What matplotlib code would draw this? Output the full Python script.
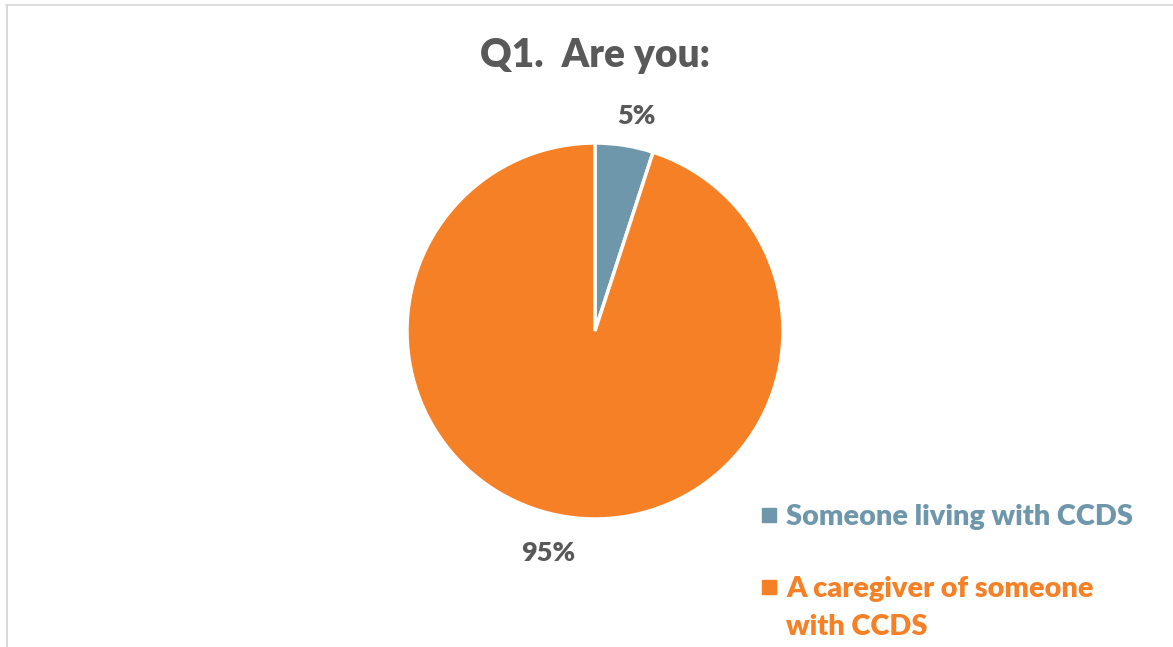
import matplotlib.pyplot as plt
from matplotlib.lines import Line2D
from matplotlib.patches import Rectangle

labels = ['Someone living with CCDS', 'A caregiver of someone\nwith CCDS']
values = [5, 95]
colors = ['#6E97AB', '#F58025']
text_grey = '#595959'

plt.rcParams['font.family'] = ['Lato', 'DejaVu Sans']
weight = 'heavy'
W, H = 1173, 647

fig = plt.figure(figsize=(W / 100, H / 100), dpi=100)
ax = fig.add_axes([(595 - 188) / W, 1 - (331 + 188) / H, 376 / W, 376 / H])

wedges, texts = ax.pie(values, colors=colors, startangle=90, counterclock=False,
                       wedgeprops=dict(edgecolor='white', linewidth=2.5))
ax.set_aspect('equal')
ax.set_xlim(-1, 1)
ax.set_ylim(-1, 1)

# percentage labels outside the slices
ax.text(0.22, 1.145, f'{values[0]}%', ha='center', va='center', fontsize=19.5,
        fontweight=weight, color=text_grey)
ax.text(-0.25, -1.18, f'{values[1]}%', ha='center', va='center', fontsize=19.5,
        fontweight=weight, color=text_grey)

fig.text(595 / W, 1 - 55 / H, 'Q1.  Are you:', ha='center', va='center',
         fontsize=28, fontweight=weight, color=text_grey)

# legend: square marker + label lines, each line placed on its own baseline
entry_baselines = [525, 597]
line_step = 38
for lab, col, base in zip(labels, colors, entry_baselines):
    fig.add_artist(Rectangle((762 / W, 1 - (base - 3) / H), 14 / W, 14 / H,
                             color=col, transform=fig.transFigure))
    for j, line in enumerate(lab.split('\n')):
        fig.text(786 / W, 1 - (base + j * line_step) / H, line, ha='left', va='baseline',
                 fontsize=20.8, fontweight=weight, color=col)

# chart area border (top and left edges visible)
fig.add_artist(Line2D([6 / W, 1], [1 - 5 / H, 1 - 5 / H], color='#D9D9D9', lw=1.2))
fig.add_artist(Line2D([7 / W, 7 / W], [0, 1 - 5 / H], color='#D9D9D9', lw=1.5))

fig.savefig('out.png', dpi=100, facecolor='white')
